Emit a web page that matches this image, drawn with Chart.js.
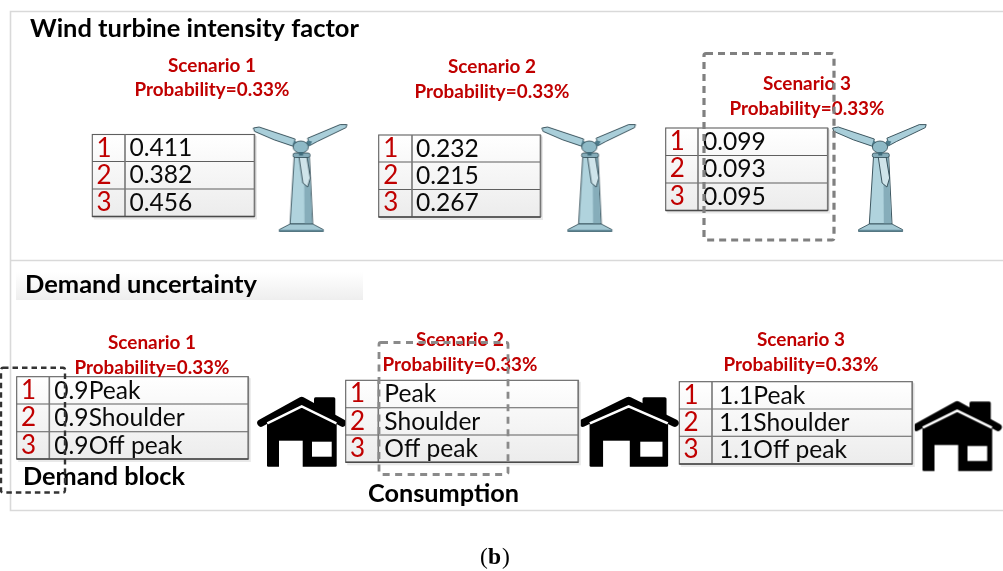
<!DOCTYPE html>
<html><head><meta charset="utf-8">
<style>html,body{margin:0;padding:0;background:#fff}canvas{display:block}</style>
<script src="https://cdn.jsdelivr.net/npm/chart.js@4"></script>
</head><body><canvas id="c" width="1003" height="571"></canvas>
<script>
// ---- values ----
const rowIds = ["1","2","3"];
const scenarioNames = ["Scenario 1","Scenario 2","Scenario 3"];
const probabilityLabel = "Probability=0.33%";
const windScenario1 = ["0.411","0.382","0.456"];
const windScenario2 = ["0.232","0.215","0.267"];
const windScenario3 = ["0.099","0.093","0.095"];
const demandScenario1 = ["0.9Peak","0.9Shoulder","0.9Off peak"];
const demandScenario2 = ["Peak","Shoulder","Off peak"];
const demandScenario3 = ["1.1Peak","1.1Shoulder","1.1Off peak"];
const windTitle = "Wind turbine intensity factor";
const demandTitle = "Demand uncertainty";
const blockLabel = "Demand block";
const consumptionLabel = "Consumption";
const captionParts = ["(","b",")"];

// ---- layout (diagram geometry, in reference pixels) ----
const turbineAnchors = [{x:300.7,y:178},{x:589.3,y:178},{x:880,y:178}];
const houseAnchors = [{x:302,y:432},{x:629,y:432},{x:957.5,y:436.3}];
const tableLayout = [
 {vals:windScenario1,x0:92.3,x1:125,x2:254.5,ys:[134.5,161.5,189,216.5],numOff:.8,tx:4.5,base:21.6},
 {vals:windScenario2,x0:378.7,x1:412,x2:540.5,ys:[135,162,189.5,217],numOff:0,tx:4,base:21.8},
 {vals:windScenario3,x0:665.7,x1:698,x2:827.7,ys:[128,155.5,183,210.5],numOff:0,tx:5,base:21.8},
 {vals:demandScenario1,x0:16.7,x1:49.3,x2:248.3,ys:[376.7,404,431.7,459],numOff:0,tx:5,base:21.8},
 {vals:demandScenario2,x0:345.7,x1:378.3,x2:578.3,ys:[380.3,407.7,435,462.3],numOff:0,tx:6,base:21.8},
 {vals:demandScenario3,x0:679.3,x1:712,x2:912.3,ys:[381.7,409,436.3,464],numOff:0,tx:7,base:21.8}
];
const headLayout = [
 {name:0,cx:212,y1:72,y2:96},{name:1,cx:492,y1:73,y2:97.5},{name:2,cx:807,y1:90,y2:115},
 {name:0,cx:152,y1:349,y2:373.7},{name:1,cx:460,y1:345.7,y2:371},{name:2,cx:801,y1:345.7,y2:371}
];
const dashLayout = [
 {x0:704,x1:834,y0:53.5,y1:240,c:"#808080",w:3.2,d:[7,5]},
 {x0:379,x1:508,y0:342.5,y1:474.5,c:"#8a8a8a",w:2.8,d:[7,5.5]},
 {x0:1,x1:65,y0:367.8,y1:492.5,c:"#333333",w:2.4,d:[5.5,4]}
];

const SANS = 'Lato, "Open Sans", sans-serif';
const RED = "#c00000";

function makeTurbine(){
  const cv=document.createElement("canvas");cv.width=100;cv.height=116;
  const g=cv.getContext("2d");g.translate(-250.7,-120);
  const poly=(pts,fill,stroke,w)=>{g.beginPath();pts.forEach((p,i)=>i?g.lineTo(p[0],p[1]):g.moveTo(p[0],p[1]));g.closePath();
    if(fill){g.fillStyle=fill;g.fill();} if(stroke){g.strokeStyle=stroke;g.lineWidth=w||0.8;g.stroke();}};
  const dark="#2c4650";
  // tower
  poly([[294.3,155],[309.3,155],[312.7,224],[290,224]],"#b0d3dd",dark,.9);
  poly([[304,157],[309,157],[312,223.5],[304.5,223.5]],"#86adba");
  // base
  poly([[290,224],[312.7,224],[323.3,229.6],[323.3,231.5],[279.3,231.5],[279.3,229.6]],"#a4c9d4",dark,.8);
  poly([[279.3,229.8],[323.3,229.8],[323.3,231.5],[279.3,231.5]],"#5f8796");
  // blades
  poly([[253.3,128],[259,127],[295,139],[293.5,146.4],[274,139.8],[254.5,131.4]],"#a9ced9",dark,.9);
  poly([[346.9,124.6],[346,127.6],[317,141.6],[310,145.4],[307.6,138.2],[340,124.6]],"#a9ced9",dark,.9);
  poly([[298.5,154],[302.8,183],[307.6,187],[310.3,178],[306.5,155]],"#cfe4ea",dark,.9);
  // collar and hub
  g.fillStyle="#86adba";g.strokeStyle=dark;g.lineWidth=.8;
  g.beginPath();g.roundRect(293,153,17,4.5,2);g.fill();g.stroke();
  poly([[294,140.5],[298.5,143],[296,147],[292.5,145]],"#4d7b8b");
  poly([[307.5,140.5],[312,141.5],[309.5,146.5],[305,144]],"#4d7b8b");
  g.beginPath();g.ellipse(300.7,147,7.6,6,0,0,Math.PI*2);g.fillStyle="#8fbac7";g.fill();g.stroke();
  g.fillStyle="#3f6b7a";g.fillRect(299,152,4,3.5);
  return cv;
}
function makeHouse(s){
  const w=Math.ceil(94*s);
  const cv=document.createElement("canvas");cv.width=w;cv.height=76;
  const g=cv.getContext("2d");g.translate(w/2,38);g.scale(s,1);g.translate(-302,-432);
  g.fillStyle="#000";
  g.beginPath();g.roundRect(314,397.3,21.3,22,1.5);g.fill();
  g.strokeStyle="#000";g.lineWidth=7.6;g.lineCap="round";g.lineJoin="round";
  g.beginPath();g.moveTo(261,423);g.lineTo(301.7,400.5);g.lineTo(342.5,423);g.stroke();
  g.beginPath();g.moveTo(267,424);g.lineTo(301.7,404);g.lineTo(336.7,424);g.lineTo(336.7,465.5);
  g.quadraticCurveTo(336.7,466.7,335.5,466.7);g.lineTo(268.2,466.7);g.quadraticCurveTo(267,466.7,267,465.5);g.closePath();g.fill();
  g.strokeStyle="#fff";g.lineWidth=2.4;g.lineCap="butt";g.lineJoin="miter";
  g.beginPath();g.moveTo(267.3,423.4);g.lineTo(301.7,406.4);g.lineTo(336.4,423.4);g.stroke();
  g.fillStyle="#fff";
  g.fillRect(279,440.7,23.7,27);
  g.fillRect(312,441.7,19.7,15);
  return cv;
}

const diagram = {
  id:"diagram",
  beforeDatasetsDraw(chart){
    const c=chart.ctx,X=v=>chart.scales.x.getPixelForValue(v),Y=v=>chart.scales.y.getPixelForValue(v);
    c.save();
    c.fillStyle="#fff";c.fillRect(0,0,1003,571);
    // panels
    c.strokeStyle="#d9d9d9";c.lineWidth=1.6;
    c.beginPath();c.moveTo(X(1003),Y(11.5));c.lineTo(X(10.5),Y(11.5));c.lineTo(X(10.5),Y(510.5));c.lineTo(X(1003),Y(510.5));
    c.moveTo(X(10.5),Y(260.5));c.lineTo(X(1003),Y(260.5));c.stroke();
    // demand band
    const gr=c.createLinearGradient(0,Y(272),0,Y(300));gr.addColorStop(0,"#ffffff");gr.addColorStop(1,"#eeeeee");
    c.fillStyle=gr;c.fillRect(X(16),Y(272),X(363)-X(16),Y(300)-Y(272));
    c.restore();
  },
  afterDatasetsDraw(chart){
    const c=chart.ctx,X=v=>chart.scales.x.getPixelForValue(v),Y=v=>chart.scales.y.getPixelForValue(v);
    const text=(s,x,y,font,col,al,mw)=>{c.font=font;c.fillStyle=col;c.textAlign=al||"left";c.textBaseline="alphabetic";
      if(mw)c.fillText(s,X(x),Y(y),mw);else c.fillText(s,X(x),Y(y));};
    c.save();
    // tables
    tableLayout.forEach(t=>{
      const top=Y(t.ys[0]),bot=Y(t.ys[3]);
      c.fillStyle="#e9e9e9";c.fillRect(X(t.x0)+1.5,top+1.5,X(t.x2)-X(t.x0)+1,bot-top+1.5);
      const g=c.createLinearGradient(0,top,0,bot);g.addColorStop(0,"#ffffff");g.addColorStop(1,"#ececec");
      c.fillStyle=g;c.fillRect(X(t.x0),top,X(t.x2)-X(t.x0),bot-top);
      c.strokeStyle="#5f5f5f";c.lineWidth=1.1;
      c.strokeRect(X(t.x0),top,X(t.x2)-X(t.x0),bot-top);
      c.beginPath();
      c.moveTo(X(t.x0),Y(t.ys[1]));c.lineTo(X(t.x2),Y(t.ys[1]));
      c.moveTo(X(t.x0),Y(t.ys[2]));c.lineTo(X(t.x2),Y(t.ys[2]));c.stroke();
      c.lineWidth=1.6;c.strokeStyle="#777";
      c.beginPath();c.moveTo(X(t.x1),top);c.lineTo(X(t.x1),bot);c.moveTo(X(t.x2),top);c.lineTo(X(t.x2),bot);c.stroke();
      c.strokeStyle="#4a4a4a";c.lineWidth=1.6;c.beginPath();c.moveTo(X(t.x0),bot);c.lineTo(X(t.x2),bot);c.stroke();
      rowIds.forEach((id,i)=>{
        text(id,(t.x0+t.x1)/2-4.5,t.ys[i]+t.base+t.numOff,"26px "+SANS,RED,"center");
        text(t.vals[i],t.x1+t.tx,t.ys[i]+t.base,"24.6px "+SANS,"#0a0a0a","left");
      });
    });
    // scenario headers
    headLayout.forEach(h=>{
      text(scenarioNames[h.name],h.cx,h.y1,"bold 19px "+SANS,RED,"center",88);
      text(probabilityLabel,h.cx,h.y2,"bold 19px "+SANS,RED,"center",155);
    });
    // titles
    text(windTitle,30,37,"bold 25.5px "+SANS,"#000","left",329);
    text(demandTitle,25,293,"bold 25.5px "+SANS,"#000","left",232);
    text(blockLabel,23,484.5,"bold 25.3px "+SANS,"#000","left",162);
    text(consumptionLabel,368,501.5,"bold 25.3px "+SANS,"#000","left",151);
    // caption
    const capFont='23.5px "Liberation Serif", serif';
    text(captionParts[0],480,564,capFont,"#000");
    text(captionParts[1],488,564,'bold 23.5px "Liberation Serif", serif',"#000");
    text(captionParts[2],502,564,capFont,"#000");
    // dashed call-outs
    dashLayout.forEach(d=>{
      c.strokeStyle=d.c;c.lineWidth=d.w;c.setLineDash(d.d);c.lineCap="butt";
      c.beginPath();c.roundRect(X(d.x0),Y(d.y0),X(d.x1)-X(d.x0),Y(d.y1)-Y(d.y0),2);c.stroke();
    });
    c.restore();
  }
};

const houseNormal = makeHouse(1), houseWide = makeHouse(1.127);
new Chart(document.getElementById("c"),{
  type:"scatter",
  data:{datasets:[
    {label:"Wind turbines",data:turbineAnchors,pointStyle:makeTurbine(),pointRadius:50,pointHoverRadius:50,clip:false},
    {label:"Houses",data:houseAnchors,pointStyle:[houseNormal,houseWide,houseNormal],pointRadius:47,pointHoverRadius:47,clip:false}
  ]},
  options:{
    responsive:false,animation:false,
    layout:{padding:0,autoPadding:false},
    plugins:{legend:{display:false},tooltip:{enabled:false},title:{display:false}},
    scales:{
      x:{type:"linear",min:0,max:1003,display:false},
      y:{type:"linear",min:0,max:571,reverse:true,display:false}
    }
  },
  plugins:[diagram]
});
</script></body></html>
